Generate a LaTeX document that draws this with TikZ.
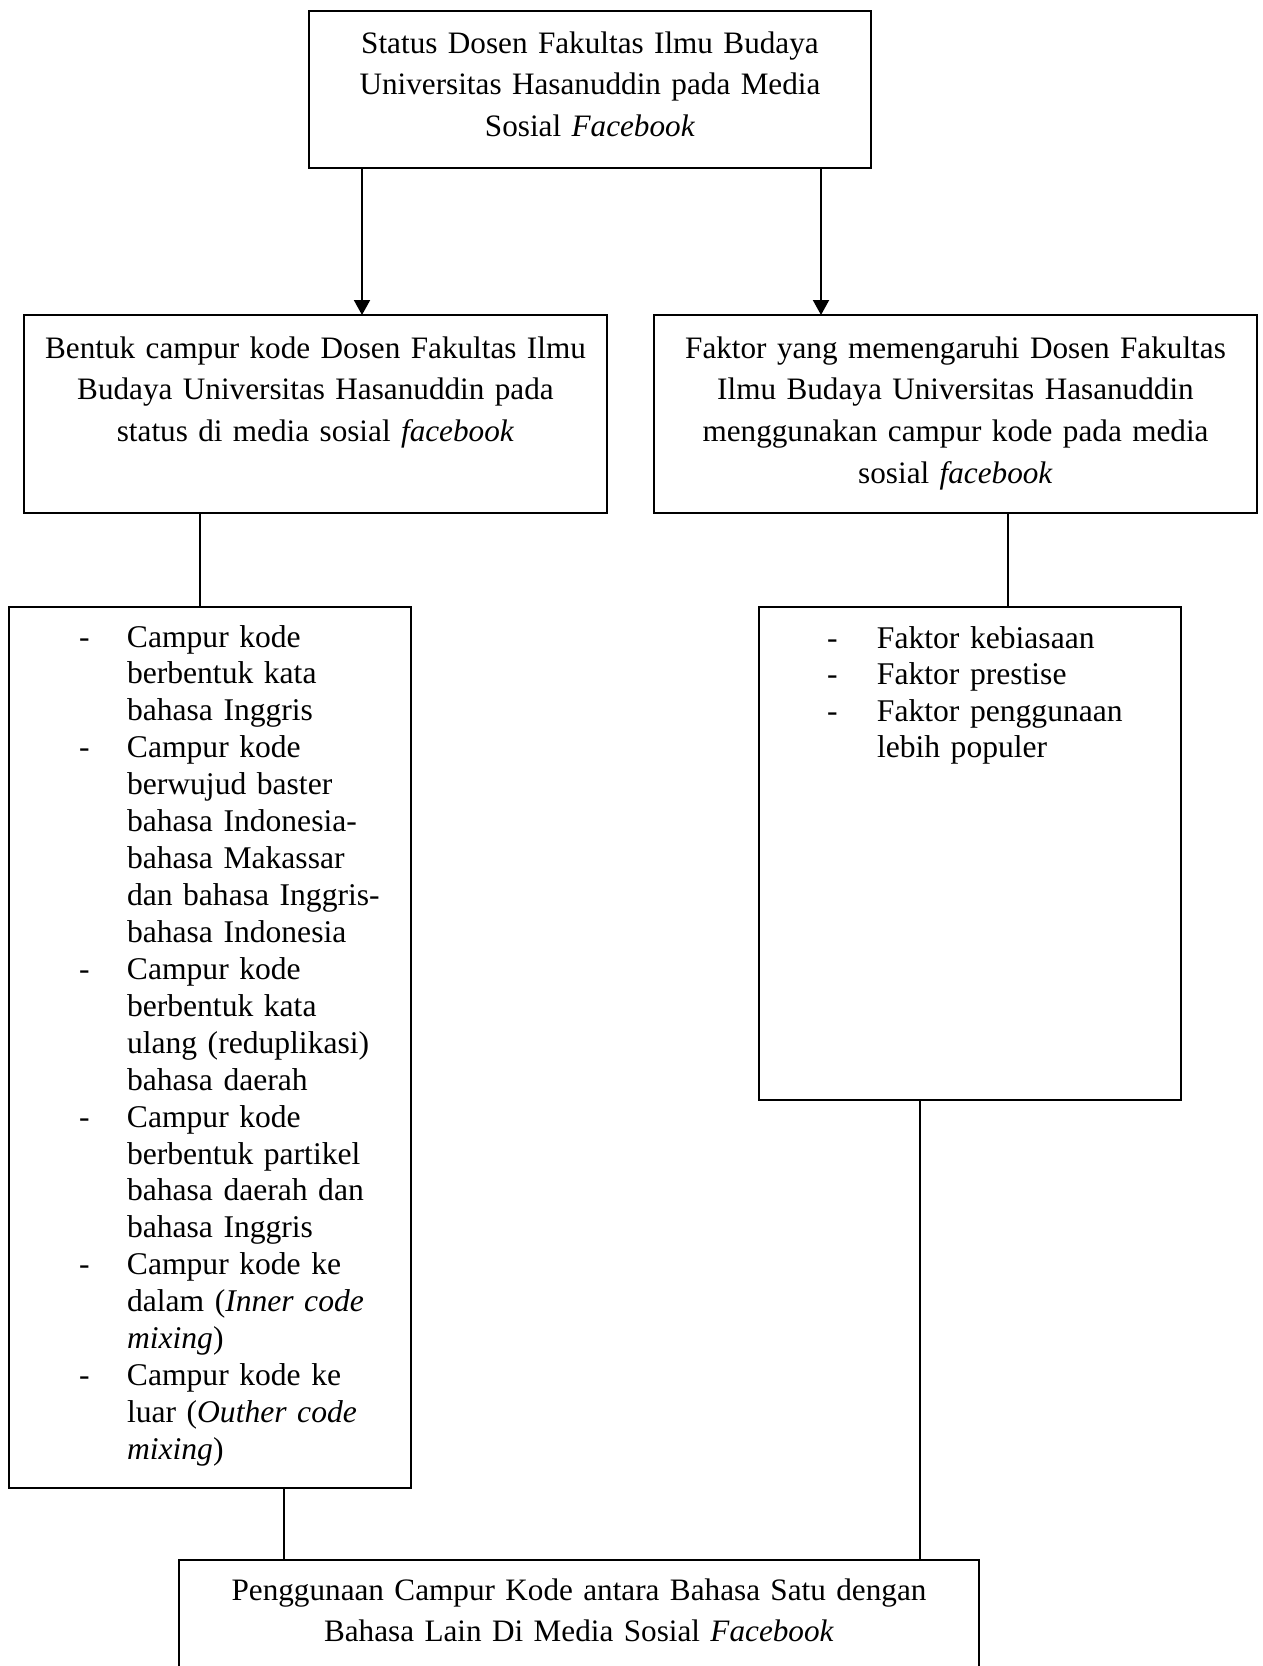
\documentclass[tikz,border=0pt]{standalone}
\usepackage{fontspec}
\setmainfont{Liberation Serif}
\usetikzlibrary{arrows.meta,calc}
\newcommand\dashL{\makebox[48pt][l]{-}}
\newcommand\contL{\hspace*{48pt}}
\newcommand\dashR{\makebox[50pt][l]{-}}
\newcommand\contR{\hspace*{50pt}}
\begin{document}
\begin{tikzpicture}[x=1pt,y=-1pt,
  box/.style={draw, rectangle, line width=2.2pt, inner sep=0pt, outer sep=0pt},
  ctext/.style={inner sep=0pt, outer sep=0pt, align=center, anchor=base,
    font=\fontsize{31.2}{41.8}\selectfont},
  ltext/.style={inner sep=0pt, outer sep=0pt, align=left, anchor=base west,
    text width=340pt},
  conn/.style={line width=2pt},
  arr/.style={line width=2pt, -{Triangle[width=16pt,length=15pt]}}]
\useasboundingbox (0,0) rectangle (1262,1666);
\clip (0,0) rectangle (1262,1666);
\fill[white] (0,0) rectangle (1262,1666);

% boxes
\node[box, minimum width=562pt, minimum height=157pt] (T) at (590,89.5) {};
\node[box, minimum width=583pt, minimum height=198pt] (L2) at (315.5,414) {};
\node[box, minimum width=603pt, minimum height=198pt] (R2) at (955.5,414) {};
\node[box, minimum width=402pt, minimum height=881pt] (L3) at (210,1047.5) {};
\node[box, minimum width=422pt, minimum height=493pt] (R3) at (970,853.5) {};
\node[box, minimum width=800pt, minimum height=170pt] (B) at (579,1645) {};

% texts
\node[ctext, text width=560pt] (Tt) at (590,53)
  {Status Dosen Fakultas Ilmu Budaya\\ Universitas Hasanuddin pada Media\\ Sosial \textit{Facebook}};
\node[ctext, text width=580pt] (L2t) at (315.5,358)
  {Bentuk campur kode Dosen Fakultas Ilmu\\ Budaya Universitas Hasanuddin pada\\ status di media sosial \textit{facebook}};
\node[ctext, text width=600pt] (R2t) at (955.5,358)
  {Faktor yang memengaruhi Dosen Fakultas\\ Ilmu Budaya Universitas Hasanuddin\\ menggunakan campur kode pada media\\ sosial \textit{facebook}};
\node[ctext, text width=790pt] (Bt) at (579,1600)
  {Penggunaan Campur Kode antara Bahasa Satu dengan\\ Bahasa Lain Di Media Sosial \textit{Facebook}};

\node[ltext, font=\fontsize{31.6}{36.93}\selectfont] (L3t) at (79,647)
  {\dashL Campur kode\\
   \contL berbentuk kata\\
   \contL bahasa Inggris\\
   \dashL Campur kode\\
   \contL berwujud baster\\
   \contL bahasa Indonesia-\\
   \contL bahasa Makassar\\
   \contL dan bahasa Inggris-\\
   \contL bahasa Indonesia\\
   \dashL Campur kode\\
   \contL berbentuk kata\\
   \contL ulang (reduplikasi)\\
   \contL bahasa daerah\\
   \dashL Campur kode\\
   \contL berbentuk partikel\\
   \contL bahasa daerah dan\\
   \contL bahasa Inggris\\
   \dashL Campur kode ke\\
   \contL dalam (\textit{Inner code}\\
   \contL \textit{mixing})\\
   \dashL Campur kode ke\\
   \contL luar (\textit{Outher code}\\
   \contL \textit{mixing})};

\node[ltext, font=\fontsize{31.6}{36.5}\selectfont] (R3t) at (827,648)
  {\dashR Faktor kebiasaan\\
   \dashR Faktor prestise\\
   \dashR Faktor penggunaan\\
   \contR lebih populer};

% connectors
\coordinate (a1) at ($(T.south west)+(53,0)$);
\coordinate (a2) at ($(T.south east)+(-50,0)$);
\draw[arr] (a1) -- (a1 |- L2.north);
\draw[arr] (a2) -- (a2 |- R2.north);
\coordinate (p1) at (200,0);
\coordinate (p2) at (1008,0);
\coordinate (p3) at (284,0);
\coordinate (p4) at (920,0);
\draw[conn] (p1 |- L2.south) -- (p1 |- L3.north);
\draw[conn] (p2 |- R2.south) -- (p2 |- R3.north);
\draw[conn] (p3 |- L3.south) -- (p3 |- B.north);
\draw[conn] (p4 |- R3.south) -- (p4 |- B.north);
\end{tikzpicture}
\end{document}
